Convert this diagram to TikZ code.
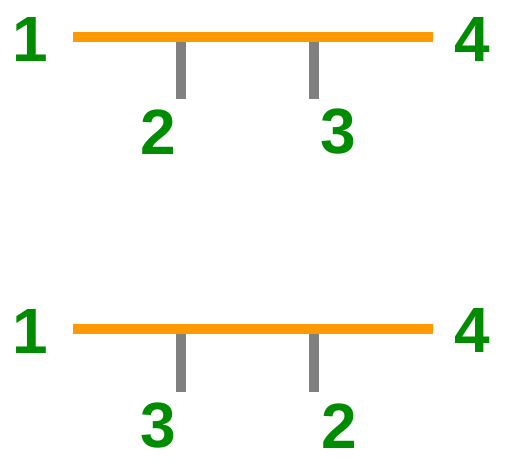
\documentclass[tikz,border=0pt]{standalone}
\usepackage{fontspec}
\setmainfont{Liberation Sans}
\definecolor{lblgreen}{RGB}{0,140,0}
\definecolor{barorange}{RGB}{255,153,0}
\definecolor{stubgray}{RGB}{128,128,128}
\tikzset{
  lbl/.style={inner sep=0pt, text=lblgreen, font=\fontsize{64}{64}\selectfont\bfseries},
  bar/.style={draw=barorange, line width=10pt},
  stub/.style={draw=stubgray, line width=10pt},
}
\begin{document}
\begin{tikzpicture}[x=1pt,y=-1pt]
\useasboundingbox (0,0) rectangle (507,462);
% top
\coordinate (tA) at (73,37);
\coordinate (tB) at (433,37);
\coordinate (tS1) at (181,42);
\coordinate (tE1) at (181,99);
\coordinate (tS2) at (314,42);
\coordinate (tE2) at (314,99);
\draw[bar] (tA) -- (tB);
\draw[stub] (tS1) -- (tE1);
\draw[stub] (tS2) -- (tE2);
\node[lbl] (t1) at (30,39) {1};
\node[lbl] (t4) at (472,39) {4};
\node[lbl] (t2) at (158,132) {2};
\node[lbl] (t3) at (338,132) {3};
% bottom
\coordinate (bA) at (73,329);
\coordinate (bB) at (433,329);
\coordinate (bS1) at (181,334);
\coordinate (bE1) at (181,392);
\coordinate (bS2) at (314,334);
\coordinate (bE2) at (314,392);
\draw[bar] (bA) -- (bB);
\draw[stub] (bS1) -- (bE1);
\draw[stub] (bS2) -- (bE2);
\node[lbl] (b1) at (30,331) {1};
\node[lbl] (b4) at (472,330) {4};
\node[lbl] (b3) at (158,426) {3};
\node[lbl] (b2) at (339,426) {2};
\end{tikzpicture}
\end{document}
